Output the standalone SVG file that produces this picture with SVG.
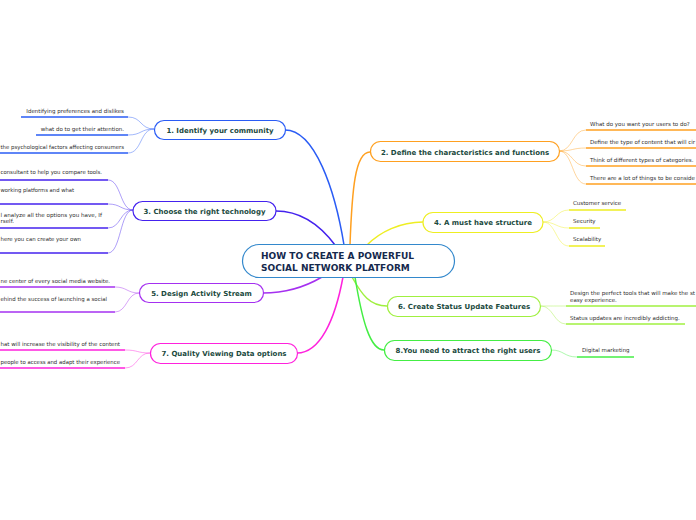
<svg xmlns="http://www.w3.org/2000/svg" width="696" height="520" viewBox="0 0 696 520">
<style>
.node{fill:#fff;stroke-width:1.2}
.nt{font-family:"DejaVu Sans",Verdana,sans-serif;font-weight:bold;font-size:7px;fill:#1b4a3e;text-anchor:middle}
.ct{font-family:"DejaVu Sans",Verdana,sans-serif;font-weight:bold;font-size:9px;fill:#15294d}
.lt{font-family:"DejaVu Sans",Verdana,sans-serif;font-size:5.5px;fill:#2e2e2e}
.lte{font-family:"DejaVu Sans",Verdana,sans-serif;font-size:5.5px;fill:#2e2e2e;text-anchor:end}
.main{fill:none;stroke-width:1.5}
.sub{fill:none;stroke-width:0.8;opacity:0.55}
.ul{fill:none;stroke-width:1.5}
</style>
<rect width="696" height="520" fill="#fff"/>
<g id="connectors">
<path class="main" stroke="#2a5cf5" d="M344,245 C335,190 315,130 285,130"/>
<path class="main" stroke="#ffa020" d="M350,245 C352,190 355,152 370,152"/>
<path class="main" stroke="#4422ee" d="M335,245 C320,225 300,211 276,211"/>
<path class="main" stroke="#eeee22" d="M367,245 C380,232 400,222 423,222"/>
<path class="main" stroke="#a530f0" d="M322,277 C305,287 285,293 263,293"/>
<path class="main" stroke="#ff22dd" d="M343,277 C335,320 320,353 297,353"/>
<path class="main" stroke="#a0f040" d="M352,277 C362,295 370,306 387,306"/>
<path class="main" stroke="#44ee44" d="M355,277 C362,320 370,350 384,350"/>
<path class="sub" stroke="#2a5cf5" d="M154,129 C140,129 142,117 128,117"/>
<path class="sub" stroke="#2a5cf5" d="M154,129 C140,129 142,135 128,135"/>
<path class="sub" stroke="#2a5cf5" d="M154,129 C140,129 142,153 128,153"/>
<path class="sub" stroke="#ffa020" d="M559,151 C573,151 572,130 586,130"/>
<path class="sub" stroke="#ffa020" d="M559,151 C573,151 572,148 586,148"/>
<path class="sub" stroke="#ffa020" d="M559,151 C573,151 572,166 586,166"/>
<path class="sub" stroke="#ffa020" d="M559,151 C573,151 572,184 586,184"/>
<path class="sub" stroke="#4422ee" d="M133,210 C120,210 121,180 108,180"/>
<path class="sub" stroke="#4422ee" d="M133,210 C120,210 121,204 108,204"/>
<path class="sub" stroke="#4422ee" d="M133,210 C120,210 121,228 108,228"/>
<path class="sub" stroke="#4422ee" d="M133,210 C120,210 121,253 108,253"/>
<path class="sub" stroke="#eeee22" d="M543,222 C556,222 556,210 569,210"/>
<path class="sub" stroke="#eeee22" d="M543,222 C556,222 556,228 569,228"/>
<path class="sub" stroke="#eeee22" d="M543,222 C556,222 556,246 569,246"/>
<path class="sub" stroke="#a530f0" d="M139,293 C127,293 127,287 115,287"/>
<path class="sub" stroke="#a530f0" d="M139,293 C127,293 127,312 115,312"/>
<path class="sub" stroke="#a0f040" d="M541,306 C553,306 554,306 566,306"/>
<path class="sub" stroke="#a0f040" d="M541,306 C553,306 554,324 566,324"/>
<path class="sub" stroke="#ff22dd" d="M150,353 C137,353 138,350 125,350"/>
<path class="sub" stroke="#ff22dd" d="M150,353 C137,353 138,368 125,368"/>
<path class="sub" stroke="#44ee44" d="M551,350 C564,350 564,357 577,357"/>
</g>
<g id="center">
<rect x="242.5" y="244.5" width="212" height="33" rx="16.5" fill="#fff" stroke="#3388cc" stroke-width="1.2"/>
<text class="ct" x="261" y="259">HOW TO CREATE A POWERFUL</text>
<text class="ct" x="261" y="270.5">SOCIAL NETWORK PLATFORM</text>
</g>
<g id="node1">
<rect class="node" stroke="#2a5cf5" x="154.5" y="120.5" width="131" height="19" rx="9.5"/>
<text class="nt" x="220" y="132.5">1. Identify your community</text>
</g>
<g id="node1-leaves">
<text class="lte" x="124" y="112.5">Identifying preferences and dislikes</text>
<path class="ul" stroke="#2a5cf5" d="M21,117 H128"/>
<text class="lte" x="124" y="130.5">what do to get their attention.</text>
<path class="ul" stroke="#2a5cf5" d="M36,135 H128"/>
<text class="lt" x="0.5" y="148.5" textLength="123.5" lengthAdjust="spacingAndGlyphs">the psychological factors affecting consumers</text>
<path class="ul" stroke="#2a5cf5" d="M0,153 H128"/>
</g>
<g id="node2">
<rect class="node" stroke="#ffa020" x="370.5" y="141.5" width="189" height="20" rx="10"/>
<text class="nt" x="465" y="154.5">2. Define the characteristics and functions</text>
</g>
<g id="node2-leaves">
<text class="lt" x="590" y="125.5">What do you want your users to do?</text>
<path class="ul" stroke="#ffa020" d="M586,130 H696"/>
<text class="lt" x="590" y="143.5" textLength="105" lengthAdjust="spacingAndGlyphs">Define the type of content that will cir</text>
<path class="ul" stroke="#ffa020" d="M586,148 H696"/>
<text class="lt" x="590" y="161.5">Think of different types of categories.</text>
<path class="ul" stroke="#ffa020" d="M586,166 H696"/>
<text class="lt" x="590" y="179.5" textLength="105" lengthAdjust="spacingAndGlyphs">There are a lot of things to be conside</text>
<path class="ul" stroke="#ffa020" d="M586,184 H696"/>
</g>
<g id="node3">
<rect class="node" stroke="#4422ee" x="133" y="201.5" width="143" height="19" rx="9.5"/>
<text class="nt" x="204.5" y="213.5">3. Choose the right technology</text>
</g>
<g id="node3-leaves">
<text class="lt" x="0.5" y="174" textLength="101.5" lengthAdjust="spacingAndGlyphs">consultant to help you compare tools.</text>
<path class="ul" stroke="#4422ee" d="M0,180 H108"/>
<text class="lt" x="0.5" y="192" textLength="73.5" lengthAdjust="spacingAndGlyphs">working platforms and what</text>
<path class="ul" stroke="#4422ee" d="M0,204 H108"/>
<text class="lt" x="0.5" y="217" textLength="101.5" lengthAdjust="spacingAndGlyphs">l analyze all the options you have, If</text>
<text class="lt" x="0.5" y="222.5" textLength="13.5" lengthAdjust="spacingAndGlyphs">rself.</text>
<path class="ul" stroke="#4422ee" d="M0,228 H108"/>
<text class="lt" x="0.5" y="241" textLength="80.5" lengthAdjust="spacingAndGlyphs">here you can create your own</text>
<path class="ul" stroke="#4422ee" d="M0,253 H108"/>
</g>
<g id="node4">
<rect class="node" stroke="#eeee22" x="423" y="212.5" width="120" height="20" rx="10"/>
<text class="nt" x="483" y="225">4. A must have structure</text>
</g>
<g id="node4-leaves">
<text class="lt" x="573" y="205">Customer service</text>
<path class="ul" stroke="#eeee22" d="M569,210 H626"/>
<text class="lt" x="573" y="223">Security</text>
<path class="ul" stroke="#eeee22" d="M569,228 H600"/>
<text class="lt" x="573" y="241">Scalability</text>
<path class="ul" stroke="#eeee22" d="M569,246 H605"/>
</g>
<g id="node5">
<rect class="node" stroke="#a530f0" x="139.5" y="283.5" width="124" height="19" rx="9.5"/>
<text class="nt" x="201.5" y="295.5">5. Design Activity Stream</text>
</g>
<g id="node5-leaves">
<text class="lt" x="0.5" y="283" textLength="109.5" lengthAdjust="spacingAndGlyphs">ne center of every social media website.</text>
<path class="ul" stroke="#a530f0" d="M0,287 H115"/>
<text class="lt" x="0.5" y="301" textLength="106.5" lengthAdjust="spacingAndGlyphs">ehind the success of launching a social</text>
<path class="ul" stroke="#a530f0" d="M0,312 H115"/>
</g>
<g id="node6">
<rect class="node" stroke="#a0f040" x="387.5" y="296.5" width="153" height="20" rx="10"/>
<text class="nt" x="464" y="309">6. Create Status Update Features</text>
</g>
<g id="node6-leaves">
<text class="lt" x="570" y="295" textLength="125" lengthAdjust="spacingAndGlyphs">Design the perfect tools that will make the st</text>
<text class="lt" x="570" y="302">easy experience.</text>
<path class="ul" stroke="#a0f040" d="M566,306 H696"/>
<text class="lt" x="570" y="320">Status updates are incredibly addicting.</text>
<path class="ul" stroke="#a0f040" d="M566,324 H685"/>
</g>
<g id="node7">
<rect class="node" stroke="#ff22dd" x="150.5" y="343.5" width="147" height="20" rx="10"/>
<text class="nt" x="224" y="356">7. Quality Viewing Data options</text>
</g>
<g id="node7-leaves">
<text class="lt" x="0.5" y="345.5" textLength="119.5" lengthAdjust="spacingAndGlyphs">hat will increase the visibility of the content</text>
<path class="ul" stroke="#ff22dd" d="M0,350 H125"/>
<text class="lt" x="0.5" y="363.5" textLength="119.5" lengthAdjust="spacingAndGlyphs">people to access and adapt their experience</text>
<path class="ul" stroke="#ff22dd" d="M0,368 H125"/>
</g>
<g id="node8">
<rect class="node" stroke="#44ee44" x="384.5" y="340.5" width="167" height="20" rx="10"/>
<text class="nt" x="468" y="353">8.You need to attract the right users</text>
</g>
<g id="node8-leaves">
<text class="lt" x="582" y="352">Digital marketing</text>
<path class="ul" stroke="#44ee44" d="M577,357 H634"/>
</g>
</svg>
